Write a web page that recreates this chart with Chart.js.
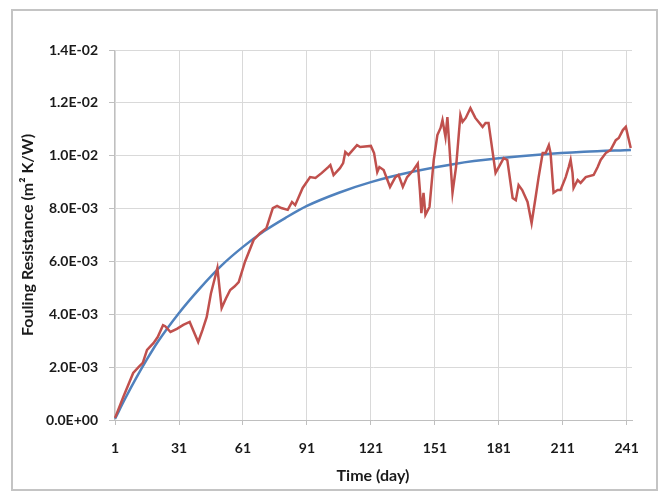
<!DOCTYPE html>
<html>
<head>
<meta charset="utf-8">
<script src="https://cdn.jsdelivr.net/npm/chart.js@4/dist/chart.umd.min.js"></script>
<style>
  html, body { margin: 0; padding: 0; background: #ffffff; }
  #wrap { width: 670px; height: 493px; position: relative; }
</style>
</head>
<body>
<div id="wrap"><canvas id="chart" width="670" height="493"></canvas></div>
<script>
// Measured fouling resistance (m² K/W) against time (day)
const measuredDays = [
  1, 5, 9.5, 12, 14, 16, 19, 21, 23.5, 24.5, 27, 30, 33, 36, 40, 42, 44, 46, 49, 51,
  53, 55, 57, 59, 62, 66, 69, 72, 75, 77, 79, 82, 84, 85.5, 89, 92.5, 95, 98, 101, 102,
  103.5, 106.5, 108, 109, 110.5, 114.5, 116, 121, 122.5, 124, 125, 127, 130, 132.5, 134, 136, 138, 141, 143, 144,
  144.7, 145.7, 146.6, 148.5, 150.5, 152.2, 153.7, 154.6, 156, 156.9, 159.3, 161, 163, 164, 165.5, 167.7, 170, 173.4, 174.8, 176.2,
  179.5, 181, 183.3, 185, 187.5, 189, 190.3, 192, 194.5, 196.4, 198.3, 199.7, 201.6, 203, 204.5, 205.3, 206.7, 208.6, 210, 212.4,
  213.8, 214.7, 215.6, 216.1, 218, 219.4, 221.8, 225.5, 227.4, 228.8, 231.2, 233.5, 235.9, 237.3, 239.2, 240.6, 242.9
];
const measuredRf = [
  0.08e-3, 0.9e-3, 1.78e-3, 2.0e-3, 2.16e-3, 2.65e-3, 2.91e-3, 3.14e-3, 3.59e-3, 3.55e-3, 3.33e-3, 3.45e-3, 3.6e-3, 3.71e-3, 2.95e-3, 3.4e-3, 3.9e-3, 4.8e-3, 5.75e-3, 4.24e-3,
  4.6e-3, 4.92e-3, 5.05e-3, 5.22e-3, 6.0e-3, 6.81e-3, 7.07e-3, 7.26e-3, 8.02e-3, 8.1e-3, 8.02e-3, 7.95e-3, 8.25e-3, 8.13e-3, 8.78e-3, 9.19e-3, 9.16e-3, 9.35e-3, 9.57e-3, 9.65e-3,
  9.27e-3, 9.53e-3, 9.72e-3, 10.14e-3, 10.03e-3, 10.4e-3, 10.33e-3, 10.37e-3, 10.1e-3, 9.38e-3, 9.57e-3, 9.46e-3, 8.82e-3, 9.19e-3, 9.27e-3, 8.82e-3, 9.19e-3, 9.46e-3, 9.7e-3, 8.7e-3,
  7.83e-3, 8.59e-3, 7.76e-3, 8.06e-3, 9.84e-3, 10.78e-3, 11.05e-3, 11.35e-3, 10.71e-3, 11.46e-3, 8.6e-3, 9.6e-3, 11.54e-3, 11.28e-3, 11.43e-3, 11.8e-3, 11.43e-3, 11.09e-3, 11.24e-3, 11.24e-3,
  9.35e-3, 9.57e-3, 9.91e-3, 9.84e-3, 8.4e-3, 8.32e-3, 8.89e-3, 8.7e-3, 8.25e-3, 7.45e-3, 8.44e-3, 9.19e-3, 10.1e-3, 10.1e-3, 10.4e-3, 10.1e-3, 8.6e-3, 8.7e-3, 8.7e-3, 9.19e-3,
  9.57e-3, 9.84e-3, 9.35e-3, 8.78e-3, 9.08e-3, 8.97e-3, 9.19e-3, 9.27e-3, 9.57e-3, 9.84e-3, 10.1e-3, 10.22e-3, 10.59e-3, 10.67e-3, 10.97e-3, 11.09e-3, 10.29e-3
];

// Asymptotic model curve
const modelDays = [1, 6, 11, 16, 21, 31, 41, 51, 61, 71, 81, 91, 106, 121, 141, 161, 181, 201, 221, 243];
const modelRf = [
  0.05e-3, 0.85e-3, 1.6e-3, 2.3e-3, 2.95e-3, 4.05e-3, 5.0e-3, 5.85e-3, 6.55e-3, 7.15e-3,
  7.65e-3, 8.1e-3, 8.6e-3, 9.0e-3, 9.4e-3, 9.7e-3, 9.9e-3, 10.05e-3, 10.15e-3, 10.22e-3
];

const xTickDays = [1, 31, 61, 91, 121, 151, 181, 211, 241];
const yTickLabels = ['0.0E+00', '2.0E-03', '4.0E-03', '6.0E-03', '8.0E-03', '1.0E-02', '1.2E-02', '1.4E-02'];

const toPoints = (xs, ys) => xs.map((x, i) => ({ x: x, y: ys[i] }));

const textColor = '#1a1a1a';
const gridColor = '#d9d9d9';
const axisColor = '#bfbfbf';
const fontFamily = 'Lato, "Open Sans", sans-serif';

// Light frame around the whole chart
const framePlugin = {
  id: 'frame',
  beforeDraw(chart) {
    const ctx = chart.ctx;
    ctx.save();
    ctx.fillStyle = '#ffffff';
    ctx.fillRect(0, 0, chart.width, chart.height);
    ctx.strokeStyle = '#c4c4c4';
    ctx.lineWidth = 2;
    ctx.strokeRect(12, 10, 645, 480);
    ctx.restore();
  }
};

new Chart(document.getElementById('chart'), {
  type: 'line',
  data: {
    datasets: [
      {
        label: 'Measured',
        data: toPoints(measuredDays, measuredRf),
        borderColor: '#c0504d',
        borderWidth: 2.5,
        pointRadius: 0,
        tension: 0,
        fill: false,
        order: 0
      },
      {
        label: 'Model',
        data: toPoints(modelDays, modelRf),
        borderColor: '#4f81bd',
        borderWidth: 2.5,
        pointRadius: 0,
        cubicInterpolationMode: 'monotone',
        fill: false,
        order: 1
      }
    ]
  },
  options: {
    responsive: false,
    animation: false,
    events: [],
    layout: { padding: { left: 12, top: 50, right: 38, bottom: 3 } },
    plugins: {
      legend: { display: false },
      tooltip: { enabled: false }
    },
    scales: {
      x: {
        type: 'linear',
        min: 0.5,
        max: 243.5,
        afterBuildTicks(scale) {
          scale.ticks = xTickDays.map(v => ({ value: v }));
        },
        afterFit(scale) { scale.height = 70; },
        ticks: {
          autoSkip: false,
          maxRotation: 0,
          padding: 15,
          color: textColor,
          font: { family: fontFamily, size: 14, weight: 'bold' },
          callback: (v) => String(v)
        },
        grid: { color: gridColor, lineWidth: 1, tickLength: 5, tickColor: axisColor },
        border: { color: axisColor, width: 1 },
        title: {
          display: true,
          text: 'Time (day)',
          color: textColor,
          font: { family: fontFamily, size: 16, weight: 'bold' },
          padding: { top: 0, bottom: 5 }
        }
      },
      y: {
        min: 0,
        max: 0.014,
        afterFit(scale) { scale.width = 102; },
        ticks: {
          stepSize: 0.002,
          padding: 11,
          color: textColor,
          font: { family: fontFamily, size: 14, weight: 'bold' },
          callback: (v, i) => yTickLabels[i]
        },
        grid: { color: gridColor, lineWidth: 1, tickLength: 5, tickColor: axisColor },
        border: { color: axisColor, width: 1 },
        title: {
          display: true,
          text: 'Fouling Resistance (m² K/W)',
          color: textColor,
          font: { family: fontFamily, size: 16, weight: 'bold' },
          padding: { top: 6, bottom: 0 }
        }
      }
    }
  },
  plugins: [framePlugin]
});
</script>
</body>
</html>
